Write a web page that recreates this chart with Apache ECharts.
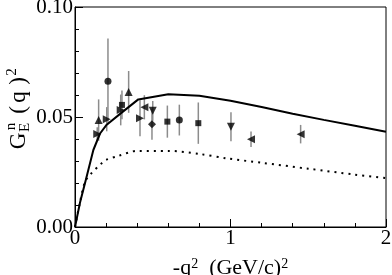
<!DOCTYPE html>
<html>
<head>
<meta charset="utf-8">
<script src="https://cdn.jsdelivr.net/npm/echarts@6/dist/echarts.min.js"></script>
<style>html,body{margin:0;padding:0;background:#fff;}#c{width:392px;height:275px;}</style>
</head>
<body>
<div id="c"></div>
<script>
// ---- data ----
const ptX   = [0.152, 0.143, 0.212, 0.204, 0.302, 0.294, 0.345, 0.418, 0.446, 0.500, 0.495, 0.594, 0.671, 0.793, 1.003, 1.132, 1.451];
const ptY   = [0.0486,0.0423,0.0662,0.0490,0.0555,0.0532,0.0614,0.0494,0.0544,0.0528,0.0467,0.0479,0.0486,0.0472,0.0456,0.0399,0.0422];
const ptErr = [0.0094,0.0030,0.0195,0.0055,0.0065,0.0070,0.0095,0.0082,0.0055,0.0045,0.0070,0.0073,0.0070,0.0094,0.0066,0.0035,0.0042];
const ptKind = ['up','right','circle','right','square','right','up','right','left','down','diamond','square','circle','square','down','left','left'];

const solidX = [0, 0.032, 0.069, 0.118, 0.161, 0.204, 0.300, 0.407, 0.600, 0.800, 1.000, 1.200, 1.400, 1.600, 1.800, 2.000];
const solidY = [0, 0.0110,0.0213,0.0350,0.0425,0.0465,0.0520,0.0580,0.0603,0.0597,0.0574,0.0545,0.0515,0.0487,0.0460,0.0433];
const dotX = [0, 0.030, 0.064, 0.100, 0.172, 0.200, 0.279, 0.400, 0.600, 0.800, 0.975, 1.200, 1.500, 1.800, 2.000];
const dotY = [0, 0.0105,0.0205,0.0240,0.0290,0.0305,0.0323,0.0346,0.0346,0.0332,0.0312,0.0292,0.0265,0.0238,0.0222];

const xTicks = ['0', '1', '2'];
const yTicks = ['0.00', '0.05', '0.10'];

// ---- chart ----
const FONT = 'Liberation Serif';
const kindMap = {
  up: {symbol: 'triangle', rot: 0, size: 8},
  down: {symbol: 'triangle', rot: 180, size: 8},
  left: {symbol: 'triangle', rot: 90, size: 8},
  right: {symbol: 'triangle', rot: -90, size: 8},
  circle: {symbol: 'circle', rot: 0, size: 7},
  square: {symbol: 'rect', rot: 0, size: 6},
  diamond: {symbol: 'diamond', rot: 0, size: 8}
};
const scatterData = ptX.map((x, i) => {
  const k = kindMap[ptKind[i]];
  return {value: [x, ptY[i]], symbol: k.symbol, symbolRotate: k.rot, symbolSize: k.size};
});
const errData = ptX.map((x, i) => [x, ptY[i] - ptErr[i], ptY[i] + ptErr[i]]);

const chart = echarts.init(document.getElementById('c'), null, {renderer: 'canvas'});
const txt = (t, x, y, size) => ({
  type: 'text', x: x, y: y, rotation: Math.PI / 2, silent: true,
  style: {text: t, font: size + 'px "' + FONT + '"', fill: '#000', textAlign: 'center', textVerticalAlign: 'middle'}
});

chart.setOption({
  animation: false,
  backgroundColor: '#fff',
  grid: {left: 75, right: 6, top: 7, bottom: 48, show: true, borderColor: '#000', borderWidth: 1,
    backgroundColor: 'transparent', containLabel: false, outerBoundsMode: 'none'},
  xAxis: {
    type: 'value', min: 0, max: 2, interval: 1,
    axisLine: {show: true, lineStyle: {color: '#000', width: 1}},
    axisTick: {show: true, inside: true, length: 8, lineStyle: {color: '#000'}},
    minorTick: {show: true, splitNumber: 5, length: 4, lineStyle: {color: '#000'}},
    splitLine: {show: false},
    axisLabel: {color: '#000', fontFamily: FONT, fontSize: 21, margin: 1,
      formatter: v => xTicks[Math.round(v)] },
    name: '{b|-q}{s|2}{b|  (GeV/c)}{s|2}',
    nameLocation: 'middle', nameGap: 30, nameMoveOverlap: false,
    nameTextStyle: {color: '#000', fontFamily: FONT, rich: {
      b: {fontFamily: FONT, fontSize: 22, lineHeight: 22, color: '#000', verticalAlign: 'bottom', padding: [8, 0, 0, 0]},
      s: {fontFamily: FONT, fontSize: 14, lineHeight: 14, color: '#000', verticalAlign: 'top'}
    }}
  },
  yAxis: {
    type: 'value', min: 0, max: 0.1, interval: 0.05,
    axisLine: {show: true, lineStyle: {color: '#000', width: 1}},
    axisTick: {show: true, inside: true, length: 8, lineStyle: {color: '#000'}},
    minorTick: {show: true, splitNumber: 5, length: 4, lineStyle: {color: '#000'}},
    splitLine: {show: false},
    axisLabel: {color: '#000', fontFamily: FONT, fontSize: 21, margin: 2,
      formatter: v => yTicks[Math.round(v / 0.05)] }
  },
  graphic: [
    txt('G', 18.5, 141, 23),
    txt('E', 25.5, 127.5, 15),
    txt('n', 11, 126.5, 15),
    txt('(', 19, 110, 23),
    txt('q', 19, 97, 23),
    txt(')', 19, 81, 23),
    txt('2', 12.5, 72, 15)
  ],
  series: [
    {
      type: 'line', data: solidX.map((x, i) => [x, solidY[i]]), symbol: 'none',
      lineStyle: {color: '#000', width: 2}, z: 3, silent: true
    },
    {
      type: 'line', data: dotX.map((x, i) => [x, dotY[i]]), symbol: 'none', smooth: 0.3,
      lineStyle: {color: '#000', width: 2, type: [2, 5]}, z: 3, silent: true
    },
    {
      type: 'custom', data: errData, z: 2, silent: true,
      renderItem: (params, api) => {
        const lo = api.coord([api.value(0), api.value(1)]);
        const hi = api.coord([api.value(0), api.value(2)]);
        return {type: 'line', shape: {x1: lo[0], y1: lo[1], x2: hi[0], y2: hi[1]},
          style: {stroke: '#8c8c8c', lineWidth: 1.5}};
      },
      encode: {x: 0, y: [1, 2]}
    },
    {
      type: 'scatter', data: scatterData, z: 4, silent: true,
      itemStyle: {color: '#000'}
    }
  ]
});
</script>
</body>
</html>
